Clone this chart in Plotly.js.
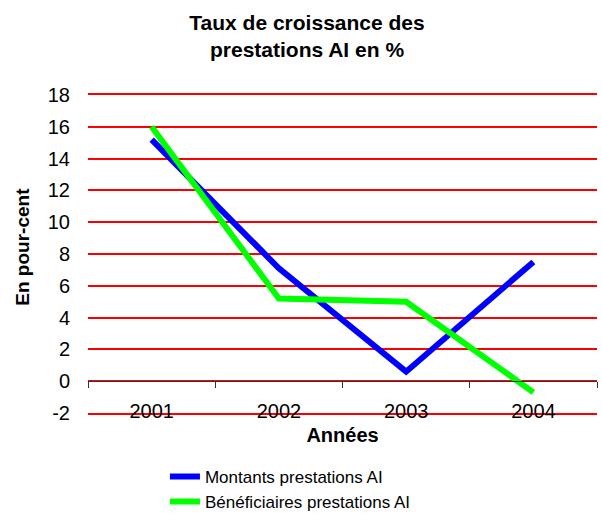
<!DOCTYPE html>
<html>
<head>
<meta charset="utf-8">
<script src="https://cdn.plot.ly/plotly-3.0.1.min.js"></script>
<style>html,body{margin:0;padding:0;background:#fff;}#chart{width:602px;height:515px;}</style>
</head>
<body>
<div id="chart"></div>
<script>
const years = ['2001', '2002', '2003', '2004'];
const montants = [15.2, 7.1, 0.6, 7.5];
const beneficiaires = [16.0, 5.2, 5.0, -0.7];
const seriesNames = ['Montants prestations AI', 'Bénéficiaires prestations AI'];
const yTicks = [-2, 0, 2, 4, 6, 8, 10, 12, 14, 16, 18];
const yTickLabels = ['-2', '0', '2', '4', '6', '8', '10', '12', '14', '16', '18'];
const boundaryTicks = [-0.5, 0.5, 1.5, 2.5, 3.5];
const yTitle = 'En pour-cent';
const xTitle = 'Années';

const font = 'Arial, "Liberation Sans", sans-serif';

const traces = [
  {x: years, y: montants, name: seriesNames[0], type: 'scatter', mode: 'lines',
   line: {color: '#0000FF', width: 6}, hoverinfo: 'x+y'},
  {x: years, y: beneficiaires, name: seriesNames[1], type: 'scatter', mode: 'lines',
   line: {color: '#00FF00', width: 6}, hoverinfo: 'x+y'},
  {x: [], y: [], xaxis: 'x2', yaxis: 'y', showlegend: false, hoverinfo: 'skip', type: 'scatter'},
  {x: [], y: [], xaxis: 'x3', yaxis: 'y', showlegend: false, hoverinfo: 'skip', type: 'scatter'}
];

const layout = {
  width: 602, height: 515,
  margin: {l: 88, r: 5, t: 95, b: 102, autoexpand: false},
  paper_bgcolor: '#fff', plot_bgcolor: '#fff',
  font: {family: font, color: '#000', size: 18},
  title: {text: '<b>Taux de croissance des<br>prestations AI en %</b>',
          font: {family: font, size: 21, color: '#000'},
          x: 0.51, xanchor: 'center', xref: 'container',
          y: 0.9423, yanchor: 'top', yref: 'container'},
  xaxis: {type: 'category', categoryorder: 'array', categoryarray: years,
          range: [-0.5, 3.5], anchor: 'free', position: 0.05,
          showline: false, showgrid: false, zeroline: false, ticks: '',
          tickfont: {size: 20, family: font},
          title: {text: '<b>' + xTitle + '</b>', font: {size: 20, family: font}, standoff: 6}},
  xaxis2: {overlaying: 'x', anchor: 'free', position: 0.1, range: [-0.5, 3.5],
           showline: true, linecolor: '#333', linewidth: 1,
           ticks: 'outside', tickvals: boundaryTicks, ticklen: 6, tickcolor: '#333', tickwidth: 1,
           showticklabels: false, showgrid: false, zeroline: false},
  xaxis3: {overlaying: 'x', anchor: 'y', side: 'bottom', range: [-0.5, 3.5],
           showline: true, mirror: true, linecolor: '#FF0000', linewidth: 2,
           ticks: '', showticklabels: false, showgrid: false, zeroline: false},
  yaxis: {range: [-2, 18], tickvals: yTicks, ticktext: yTickLabels,
          showgrid: true, gridcolor: '#FF0000', gridwidth: 2,
          zeroline: false, showline: false, ticks: '', ticklabelstandoff: 17,
          tickfont: {size: 20, family: font}},
  annotations: [
    {text: '<b>' + yTitle + '</b>', textangle: -90, xref: 'paper', yref: 'paper',
     x: -0.1277, y: 0.523, xanchor: 'center', yanchor: 'middle', showarrow: false,
     font: {size: 19, family: font, color: '#000'}}
  ],
  showlegend: true,
  legend: {x: 0.274, xanchor: 'left', xref: 'container', y: 0.109, yanchor: 'top', yref: 'container',
           orientation: 'v',
           font: {size: 17, family: font}, bgcolor: 'rgba(0,0,0,0)', borderwidth: 0,
           tracegroupgap: 0, itemwidth: 30}
};

Plotly.newPlot('chart', traces, layout, {displayModeBar: false, staticPlot: true});
</script>
</body>
</html>
